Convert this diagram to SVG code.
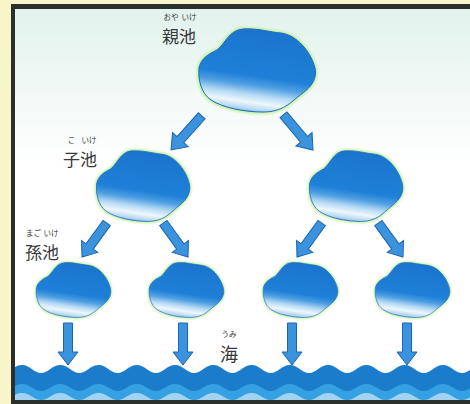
<svg xmlns="http://www.w3.org/2000/svg" xmlns:xlink="http://www.w3.org/1999/xlink" width="470" height="404" viewBox="0 0 470 404">
  <style>
    .label { font-family: "Noto Sans CJK JP", "Noto Sans", sans-serif; fill: #3a3a3a; }
    .kanji { font-size: 17px; }
    .kana { font-size: 7.5px; text-anchor: middle; }
    .arrow { fill: #3b93de; stroke: #1c64b0; stroke-width: 1; stroke-linejoin: miter; }
  </style>
  <defs>
    <linearGradient id="bg" x1="0" y1="0" x2="0" y2="1">
      <stop offset="0" stop-color="#e2f2ed"/>
      <stop offset="0.4" stop-color="#ffffff"/>
      <stop offset="1" stop-color="#ffffff"/>
    </linearGradient>
    <linearGradient id="water" x1="0.5" y1="0" x2="0.3" y2="1">
      <stop offset="0" stop-color="#1a74cd"/>
      <stop offset="0.55" stop-color="#1f80d8"/>
      <stop offset="0.66" stop-color="#4f9fe2"/>
      <stop offset="0.77" stop-color="#b6daf4"/>
      <stop offset="0.86" stop-color="#eef7fd"/>
      <stop offset="0.94" stop-color="#b4d6f1"/>
      <stop offset="1" stop-color="#4a8ed0"/>
    </linearGradient>
    <filter id="soft" x="-20%" y="-20%" width="140%" height="140%">
      <feGaussianBlur stdDeviation="1.3"/>
    </filter>
    <!-- pond outline, 120 x 84 -->
    <path id="pond-outline" d="M 2 40 C 4 30, 12 26, 20 22 C 28 16, 32 2, 46 1 C 60 0, 72 4, 84 5 C 100 7, 114 24, 118 40 C 121 54, 110 62, 102 68 C 94 74, 86 84, 66 84 C 48 84, 26 80, 14 72 C 4 65, 1 52, 2 40 Z"/>
    <g id="pond">
      <use xlink:href="#pond-outline" fill="none" stroke="#c6f0a2" stroke-width="4.5" filter="url(#soft)"/>
      <use xlink:href="#pond-outline" fill="url(#water)" stroke="#1d6cc0" stroke-width="1"/>
    </g>
    <!-- arrows point down, tip at origin -->
    <path id="arrow-v" class="arrow" d="M -4.5 -42 H 4.5 V -13 H 10 L 0 0 L -10 -13 H -4.5 Z"/>
    <path id="arrow-d" class="arrow" d="M -4.5 -46 H 4.5 V -14 H 10.5 L 0 0 L -10.5 -14 H -4.5 Z"/>
    <!-- sea: three wave bands, one period per tile -->
    <pattern id="sea" patternUnits="userSpaceOnUse" x="2.9" y="365" width="38.27" height="40">
      <path d="M 0 8 C 7 8, 11 0, 19.135 0 C 27 0, 31 8, 38.27 8 V 40 H 0 Z" fill="#1b7ccc"/>
      <path d="M 0 26 C 7 26, 11 19, 19.135 19 C 27 19, 31 26, 38.27 26 V 40 H 0 Z" fill="#35a0e2"/>
      <path d="M 0 35 C 7 35, 11 28, 19.135 28 C 27 28, 31 35, 38.27 35 V 40 H 0 Z" fill="#a2d4f2"/>
    </pattern>
  </defs>

  <!-- frame -->
  <rect x="0" y="0" width="470" height="404" fill="#f7f5c9"/>
  <rect x="11" y="4" width="459" height="400" fill="#2b302c"/>
  <rect x="15" y="9" width="455" height="391" fill="url(#bg)"/>
  <rect x="15" y="365" width="455" height="35" fill="url(#sea)"/>

  <!-- ponds -->
  <g id="parent-pond"><use xlink:href="#pond" transform="translate(197,28)"/></g>
  <g id="child-pond-left"><use xlink:href="#pond" transform="translate(95,150) scale(0.8,0.85)"/></g>
  <g id="child-pond-right"><use xlink:href="#pond" transform="translate(308,150) scale(0.8,0.85)"/></g>
  <g id="grandchild-pond-1"><use xlink:href="#pond" transform="translate(35,262) scale(0.64,0.66)"/></g>
  <g id="grandchild-pond-2"><use xlink:href="#pond" transform="translate(148,262) scale(0.64,0.66)"/></g>
  <g id="grandchild-pond-3"><use xlink:href="#pond" transform="translate(262,262) scale(0.64,0.66)"/></g>
  <g id="grandchild-pond-4"><use xlink:href="#pond" transform="translate(374,262) scale(0.64,0.66)"/></g>

  <!-- connectors -->
  <g id="connectors">
    <use xlink:href="#arrow-d" transform="translate(171,150) rotate(42)"/>
    <use xlink:href="#arrow-d" transform="translate(313,150) rotate(-40)"/>
    <use xlink:href="#arrow-v" transform="translate(82,257) rotate(36)"/>
    <use xlink:href="#arrow-v" transform="translate(188,257) rotate(-36)"/>
    <use xlink:href="#arrow-v" transform="translate(297,257) rotate(36)"/>
    <use xlink:href="#arrow-v" transform="translate(403,257) rotate(-36)"/>
    <use xlink:href="#arrow-v" transform="translate(68,365)"/>
    <use xlink:href="#arrow-v" transform="translate(183,365)"/>
    <use xlink:href="#arrow-v" transform="translate(292,365)"/>
    <use xlink:href="#arrow-v" transform="translate(407,365)"/>
  </g>

  <!-- labels -->
  <g id="label-parent" class="label">
    <text class="kana" x="171" y="20">おや</text>
    <text class="kana" x="189" y="20">いけ</text>
    <text class="kanji" x="162" y="43">親池</text>
  </g>
  <g id="label-child" class="label">
    <text class="kana" x="71.5" y="143">こ</text>
    <text class="kana" x="89" y="143">いけ</text>
    <text class="kanji" x="63" y="166">子池</text>
  </g>
  <g id="label-grandchild" class="label">
    <text class="kana" x="33.5" y="236">まご</text>
    <text class="kana" x="51" y="236">いけ</text>
    <text class="kanji" x="25" y="259">孫池</text>
  </g>
  <g id="label-sea" class="label">
    <text class="kana" x="229" y="337">うみ</text>
    <text class="kanji" x="220" y="361" style="font-size:18px">海</text>
  </g>
</svg>
